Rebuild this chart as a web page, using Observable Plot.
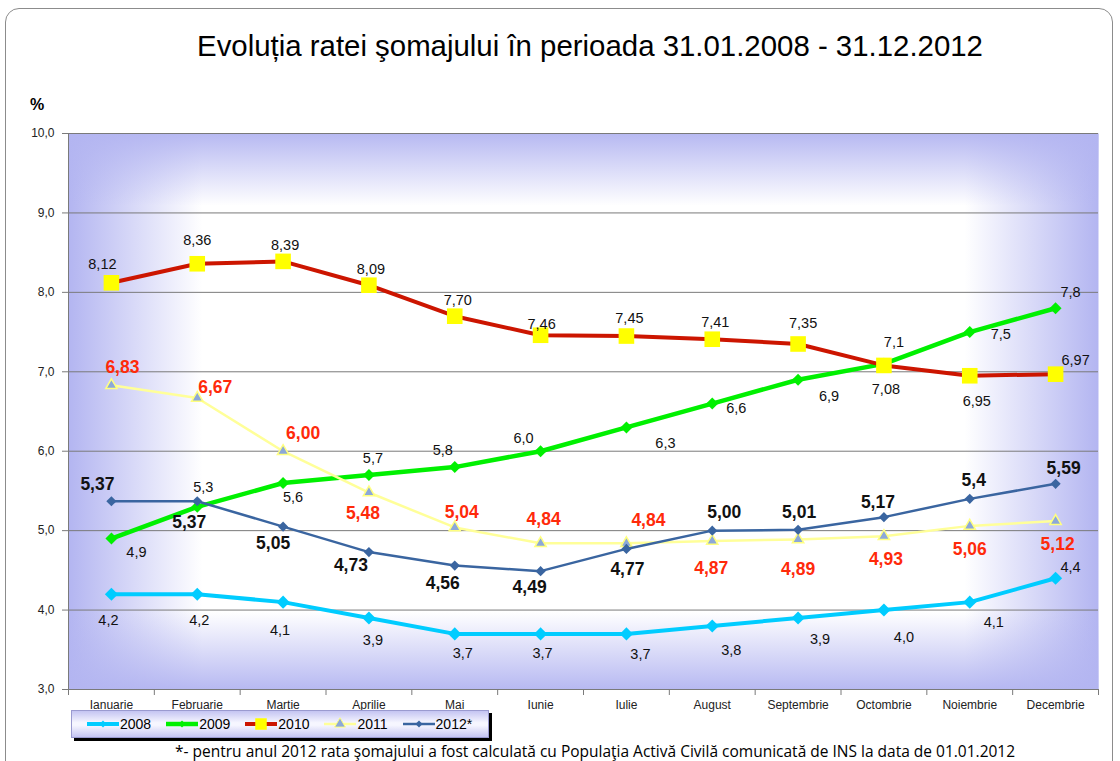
<!DOCTYPE html>
<html>
<head>
<meta charset="utf-8">
<script src="https://cdn.jsdelivr.net/npm/d3@7"></script>
<script src="https://cdn.jsdelivr.net/npm/@observablehq/plot@0.6"></script>
<style>
  body { margin: 0; background: #fff; font-family: "Liberation Sans", Arial, sans-serif; }
  #wrap { position: relative; width: 1120px; height: 761px; overflow: hidden; background: #fff; }
  #chart { position: absolute; left: 0; top: 0; }
  #title { position: absolute; left: 0; width: 1180px; top: 29px; text-align: center; font-size: 29.4px; color: #000; white-space: nowrap; }
  #pct { position: absolute; left: 30px; top: 96px; font-size: 16px; font-weight: bold; color: #000; }
  #legend { position: absolute; left: 71px; top: 710px; width: 402px; height: 26px; border: 1px solid #9a9ad0;
            background: linear-gradient(to bottom, #c4c4f2 0%, #f6f6ff 45%, #f6f6ff 55%, #c4c4f2 100%);
            box-shadow: 3px 3px 0 #000; display: flex; align-items: center; padding-left: 14px; box-sizing: content-box; }
  .li { display: flex; align-items: center; font-size: 14px; color: #000; margin-right: 14px; }
  .li svg { display: block; }
  #note { position: absolute; left: 175px; top: 741px; line-height: 20px; font-family: "Open Sans", sans-serif; font-size: 15.5px; color: #000; white-space: nowrap; }
  #border { position: absolute; left: 5px; top: 8px; width: 1106px; height: 800px; border: 1px solid #8c8c8c; border-radius: 14px; pointer-events: none; }
</style>
</head>
<body>
<div id="wrap">
  <div id="chart"></div>
  <div id="title">Evoluția ratei şomajului în perioada 31.01.2008 - 31.12.2012</div>
  <div id="pct">%</div>
  <div id="legend"></div>
  <div id="note">*- pentru anul 2012 rata şomajului a fost calculată cu Populaţia Activă Civilă comunicată de INS la data de 01.01.2012</div>
  <div id="border"></div>
</div>
<script>
// ---------- data ----------
const months = ["Ianuarie","Februarie","Martie","Aprilie","Mai","Iunie","Iulie","August","Septembrie","Octombrie","Noiembrie","Decembrie"];
const seriesNames = ["2008","2009","2010","2011","2012*"];
const v2008 = [4.2,4.2,4.1,3.9,3.7,3.7,3.7,3.8,3.9,4.0,4.1,4.4];
const v2009 = [4.9,5.3,5.6,5.7,5.8,6.0,6.3,6.6,6.9,7.1,7.5,7.8];
const v2010 = [8.12,8.36,8.39,8.09,7.70,7.46,7.45,7.41,7.35,7.08,6.95,6.97];
const v2011 = [6.83,6.67,6.00,5.48,5.04,4.84,4.84,4.87,4.89,4.93,5.06,5.12];
const v2012 = [5.37,5.37,5.05,4.73,4.56,4.49,4.77,5.00,5.01,5.17,5.4,5.59];
const lab2012 = ["5,37","5,37","5,05","4,73","4,56","4,49","4,77","5,00","5,01","5,17","5,4","5,59"];
const yTicks = [3,4,5,6,7,8,9,10];

// ---------- styling (label nudges in px, relative to each point) ----------
const nudgeDx = {
  "2008":  [-3,2,-3,4,8,2,14,19,22,20,24,15],
  "2009":  [25,6,10,4,-12,-17,39,24,31,10,31,15],
  "2010":  [-9,0,2,2,3,1,3,3,5,2,7,20],
  "2011":  [11,18,20,-6,7,3,22,-1,0,2,0,2],
  "2012*": [-14,-8,-10,-18,-12,-11,1,12,1,-6,4,8]
};
const nudgeDy = {
  "2008":  [26,26,28,22,19,19,20,24,21,27,20,-11],
  "2009":  [14,-19,14,-17,-17,-13,16,5,17,-21,2,-16],
  "2010":  [-18,-23,-16,-16,-16,-11,-18,-17,-21,24,26,-14],
  "2011":  [-18,-11,-18,21,-15,-24,-23,27,30,23,24,23],
  "2012*": [-17,21,17,13,18,16,20,-18,-17,-15,-18,-15]
};
const fmt = (d) => (v) => v.toFixed(d).replace(".", ",");
const series = [
  {name:"2008",  values:v2008, labels:v2008.map(fmt(1)), stroke:"#00ccff", sw:4,   symbol:"diamond2", r:5.9, fill:"#00ccff", dstroke:"none",    lc:"#111", bold:false},
  {name:"2009",  values:v2009, labels:v2009.map(fmt(1)), stroke:"#00f000", sw:4.5, symbol:"diamond2", r:5.4, fill:"#00f000", dstroke:"none",    lc:"#111", bold:false},
  {name:"2010",  values:v2010, labels:v2010.map(fmt(2)), stroke:"#cc1500", sw:4,   symbol:"square",   r:8.8, fill:"#ffff00", dstroke:"none",    lc:"#111", bold:false},
  {name:"2011",  values:v2011, labels:v2011.map(fmt(2)), stroke:"#ffff99", sw:2.5, symbol:"triangle", r:4.2, fill:"#8ca8d8", dstroke:"#ffff80", lc:"#ff2a0a", bold:true},
  {name:"2012*", values:v2012, labels:lab2012,           stroke:"#3a65a0", sw:2.5, symbol:"diamond2", r:4.6, fill:"#3a65a0", dstroke:"none",    lc:"#111", bold:true}
];
const rowsOf = (s) => months.map((m, i) => ({month: m, value: s.values[i], label: s.labels[i], i}));

// ---------- geometry ----------
const W = 1120, H = 761, ML = 68, MR = 22, MT = 133, MB = 72;
const half = (W - ML - MR) / months.length / 2;

const marks = [
  Plot.frame({fill: "#ffffff"}),
  Plot.frame({fill: "url(#gh)"}),
  Plot.frame({fill: "url(#gv)"}),
  Plot.ruleY(yTicks, {y: d => d, stroke: "#7a7a7a", strokeWidth: 1}),
  Plot.ruleX([months[0]], {x: d => d, dx: -half, stroke: "#7a7a7a"}),
  Plot.ruleX(months, {x: d => d, dx: -half, y1: 3, y2: 3, insetBottom: -6, stroke: "#7a7a7a"}),
  Plot.ruleX([months[months.length - 1]], {x: d => d, dx: half, y1: 3, y2: 3, insetBottom: -6, stroke: "#7a7a7a"}),
  Plot.axisY({ticks: yTicks, tickFormat: fmt(1), tickSize: 6, tickPadding: 8, fontSize: 12, stroke: "#7a7a7a", color: "#222"}),
  Plot.axisX({tickSize: 0, tickPadding: 11, fontSize: 12, color: "#222"})
];
for (const s of series) {
  const rows = rowsOf(s);
  marks.push(Plot.line(rows, {x: "month", y: "value", stroke: s.stroke, strokeWidth: s.sw, curve: "linear"}));
  marks.push(Plot.dot(rows, {x: "month", y: "value", symbol: s.symbol, r: s.r, fill: s.fill, stroke: s.dstroke, strokeWidth: 1.5}));
}
for (const s of series) {
  for (const row of rowsOf(s)) {
    marks.push(Plot.text([row], {
      x: "month", y: "value", text: "label",
      dx: nudgeDx[s.name][row.i], dy: nudgeDy[s.name][row.i],
      fill: s.lc, fontSize: s.bold ? 17.5 : 14.5, fontWeight: s.bold ? "bold" : "normal"
    }));
  }
}

const svg = Plot.plot({
  width: W, height: H,
  marginLeft: ML, marginRight: MR, marginTop: MT, marginBottom: MB,
  style: {background: "transparent", fontFamily: "'Liberation Sans', Arial, sans-serif", overflow: "visible"},
  x: {type: "point", domain: months, padding: 0.5, round: false, label: null},
  y: {domain: [3, 10], label: null},
  marks
});

const defs = d3.select(svg).insert("defs", ":first-child");
const edge = "#b3b5f1";
const gh = defs.append("linearGradient").attr("id", "gh").attr("x1", 0).attr("x2", 1).attr("y1", 0).attr("y2", 0);
[[0,1],[0.13,0],[0.87,0],[1,1]].forEach(([o,a]) => gh.append("stop").attr("offset", o).attr("stop-color", edge).attr("stop-opacity", a));
const gv = defs.append("linearGradient").attr("id", "gv").attr("x1", 0).attr("x2", 0).attr("y1", 0).attr("y2", 1);
[[0,0.95],[0.13,0],[0.86,0],[1,0.95]].forEach(([o,a]) => gv.append("stop").attr("offset", o).attr("stop-color", edge).attr("stop-opacity", a));

document.getElementById("chart").appendChild(svg);

// ---------- legend ----------
const legend = document.getElementById("legend");
const sym = {diamond2: d3.symbolDiamond2, square: d3.symbolSquare, triangle: d3.symbolTriangle};
series.forEach(s => {
  const item = document.createElement("div");
  item.className = "li";
  const ns = "http://www.w3.org/2000/svg";
  const sv = document.createElementNS(ns, "svg");
  sv.setAttribute("width", 34); sv.setAttribute("height", 18);
  const ln = document.createElementNS(ns, "line");
  ln.setAttribute("x1", 1); ln.setAttribute("x2", 33); ln.setAttribute("y1", 9); ln.setAttribute("y2", 9);
  ln.setAttribute("stroke", s.stroke); ln.setAttribute("stroke-width", s.sw);
  sv.appendChild(ln);
  const p = document.createElementNS(ns, "path");
  const rr = s.symbol === "square" ? 6.5 : (s.symbol === "triangle" ? 4 : 3.2);
  p.setAttribute("d", d3.symbol(sym[s.symbol], Math.PI * rr * rr)());
  p.setAttribute("transform", "translate(17,9)");
  p.setAttribute("fill", s.fill);
  if (s.dstroke !== "none") { p.setAttribute("stroke", s.dstroke); p.setAttribute("stroke-width", 1); }
  sv.appendChild(p);
  item.appendChild(sv);
  const t = document.createElement("span");
  t.textContent = s.name;
  item.appendChild(t);
  legend.appendChild(item);
});
</script>
</body>
</html>
